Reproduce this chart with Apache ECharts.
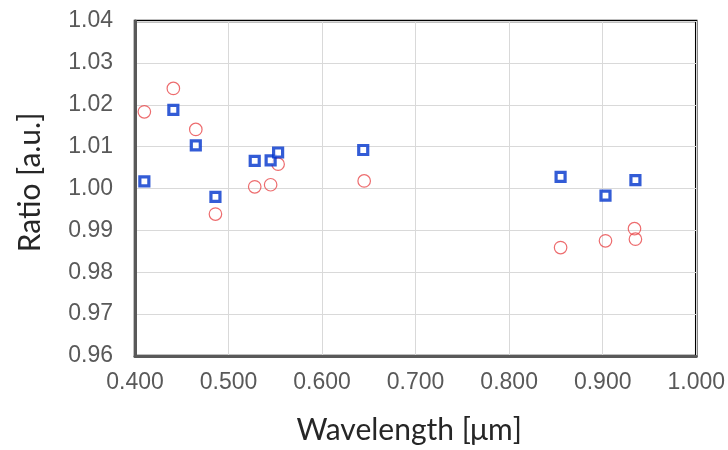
<!DOCTYPE html>
<html>
<head>
<meta charset="utf-8">
<script src="https://cdn.jsdelivr.net/npm/echarts@6/dist/echarts.min.js"></script>
<style>html,body{margin:0;padding:0;background:#fff;}#c{width:728px;height:450px;}</style>
</head>
<body>
<div id="c"></div>
<script>
// Blue squares
const blueX = [0.410, 0.441, 0.465, 0.486, 0.528, 0.545, 0.553, 0.644, 0.855, 0.903, 0.935];
const blueY = [1.0017, 1.0188, 1.0103, 0.9980, 1.0066, 1.0067, 1.0086, 1.0092, 1.0028, 0.9983, 1.0020];
// Red circles
const redX = [0.410, 0.441, 0.465, 0.486, 0.528, 0.545, 0.553, 0.645, 0.855, 0.903, 0.934, 0.935];
const redY = [1.0183, 1.0239, 1.0141, 0.9939, 1.0004, 1.0009, 1.0058, 1.0018, 0.9859, 0.9875, 0.9904, 0.9879];
const xTicks = {min: 0.4, max: 1.0, interval: 0.1};
const yTicks = {min: 0.96, max: 1.04, interval: 0.01};

const pair = (xs, ys) => xs.map((x, i) => [x, ys[i]]);

const chart = echarts.init(document.getElementById('c'), null, {renderer: 'canvas'});
const tickFont = {fontFamily: 'Liberation Sans', fontSize: 23, color: '#595959'};
const nameFont = {fontFamily: 'Lato', fontSize: 30, color: '#262626'};
chart.setOption({
  animation: false,
  backgroundColor: '#fff',
  grid: {left: 135, right: 30, top: 21, bottom: 94, show: true, borderColor: '#000', borderWidth: 2.5, backgroundColor: 'transparent'},
  xAxis: {
    type: 'value', min: xTicks.min, max: xTicks.max, interval: xTicks.interval,
    name: 'Wavelength [μm]', nameLocation: 'middle', nameGap: 59,
    nameTextStyle: Object.assign({padding: [0, 13, 0, 0]}, nameFont),
    axisLine: {show: true, onZero: false, lineStyle: {color: '#595959', width: 3}},
    axisTick: {show: false},
    axisLabel: Object.assign({margin: 15, formatter: v => v.toFixed(3)}, tickFont),
    splitLine: {show: true, lineStyle: {color: '#d9d9d9', width: 1}}
  },
  yAxis: {
    type: 'value', min: yTicks.min, max: yTicks.max, interval: yTicks.interval,
    name: 'Ratio [a.u.]', nameLocation: 'middle', nameGap: 90, nameRotate: 90,
    nameTextStyle: Object.assign({padding: [0, 0, 0, 12]}, nameFont),
    axisLine: {show: true, onZero: false, lineStyle: {color: '#595959', width: 3}},
    axisTick: {show: false},
    axisLabel: Object.assign({margin: 22, formatter: v => v.toFixed(2)}, tickFont),
    splitLine: {show: true, lineStyle: {color: '#d9d9d9', width: 1}}
  },
  series: [
    {
      type: 'scatter', data: pair(redX, redY), symbol: 'circle', symbolSize: 12.5,
      itemStyle: {color: 'rgba(255,255,255,0)', borderColor: '#e8474a', borderWidth: 1.2}
    },
    {
      type: 'scatter', data: pair(blueX, blueY), symbol: 'rect', symbolSize: 9,
      itemStyle: {color: '#fff', borderColor: '#0033cc', borderWidth: 3.2}
    }
  ]
});
</script>
</body>
</html>
